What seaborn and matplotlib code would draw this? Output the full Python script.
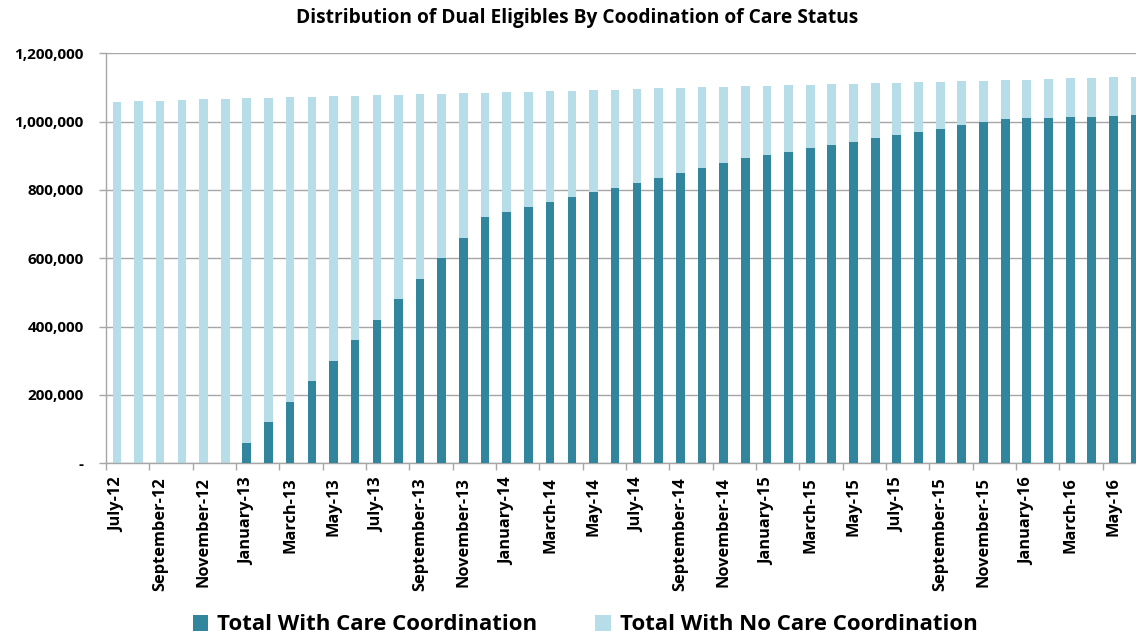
import matplotlib
matplotlib.use("Agg")
import matplotlib.pyplot as plt
import seaborn as sns
import pandas as pd
from matplotlib.patches import Patch
from matplotlib.ticker import FuncFormatter, FixedLocator

month_names = ["January", "February", "March", "April", "May", "June", "July",
               "August", "September", "October", "November", "December"]
months = []
for yy in range(12, 17):
    for mi, mn in enumerate(month_names):
        if (yy == 12 and mi < 6) or (yy == 16 and mi > 5):
            continue
        months.append(f"{mn}-{yy}")

total = [1058500, 1060500, 1061500, 1063400, 1065400, 1066300, 1068300, 1069300,
         1071200, 1072200, 1074100, 1076100, 1077000, 1078000, 1080000, 1082000,
         1083000, 1085000, 1087000, 1087500, 1089000, 1091000, 1092000, 1094000,
         1096000, 1097000, 1098500, 1100500, 1101500, 1103000, 1105000, 1106300,
         1107300, 1109300, 1110200, 1112200, 1114100, 1115100, 1117100, 1118000,
         1120000, 1122000, 1122900, 1124900, 1126800, 1127800, 1129800, 1130700]

with_cc = [0, 0, 0, 0, 0, 0, 60000, 120000,
           180000, 240000, 300000, 360000, 420000, 480000, 540000, 600000,
           660000, 720000, 735000, 750000, 765000, 780000, 793000, 807000,
           821000, 835000, 850000, 864000, 879000, 893000, 902000, 912000,
           923000, 932000, 940000, 951000, 961000, 970000, 979000, 990000,
           999000, 1009000, 1011000, 1012000, 1014000, 1015000, 1017000, 1018000]

no_cc = [t - w for t, w in zip(total, with_cc)]

series_names = ["Total With Care Coordination", "Total With No Care Coordination"]

DARK = "#31859C"
LIGHT = "#B7DEE8"
GRID = "#A6A6A6"

df = pd.DataFrame({"month": months, "with_cc": with_cc, "no_cc": no_cc})
df["total"] = df["with_cc"] + df["no_cc"]

sns.set_theme(style="white")
plt.rcParams["font.family"] = ["Open Sans", "DejaVu Sans"]
plt.rcParams["font.weight"] = "bold"
plt.rcParams["text.color"] = "black"
plt.rcParams["xtick.color"] = "black"
plt.rcParams["ytick.color"] = "black"

fig = plt.figure(figsize=(11.36, 6.35), dpi=100)
ax = fig.add_axes([106 / 1136, 1 - 463.3 / 635, 1040 / 1136, 410 / 635])

sns.barplot(data=df, x="month", y="total", color=LIGHT, width=0.4,
            saturation=1, linewidth=0, ax=ax, zorder=2)
sns.barplot(data=df, x="month", y="with_cc", color=DARK, width=0.4,
            saturation=1, linewidth=0, ax=ax, zorder=3)

ax.set_xlim(-0.5, len(months) - 0.5)
ax.set_ylim(0, 1200000)
ax.set_yticks(range(0, 1200001, 200000))
ax.yaxis.set_major_formatter(FuncFormatter(lambda v, p: "-" if v == 0 else f"{v:,.0f}"))
ax.grid(axis="y", color=GRID, linewidth=1.0, zorder=0)
ax.set_axisbelow(True)

# labels on every other month, tick marks on category boundaries
label_pos = list(range(0, len(months), 2))
ax.xaxis.set_major_locator(FixedLocator(label_pos))
ax.set_xticklabels([months[i] for i in label_pos], rotation=90,
                   fontsize=11.8, fontweight="bold", color="black")
ax.xaxis.set_minor_locator(FixedLocator([i - 0.5 for i in label_pos]))
ax.tick_params(axis="x", which="major", length=0, pad=10)
ax.tick_params(axis="x", which="minor", length=5, width=1, color=GRID, direction="out", bottom=True)
ax.tick_params(axis="y", length=5, width=1, color=GRID, direction="out", left=True, pad=11,
               labelsize=11, labelcolor="black")
for lbl in ax.get_yticklabels():
    lbl.set_fontweight("bold")

ax.set_xlabel("")
ax.set_ylabel("")
for s in ["top", "right"]:
    ax.spines[s].set_visible(False)
for s in ["left", "bottom"]:
    ax.spines[s].set_color(GRID)
    ax.spines[s].set_linewidth(1.0)

fig.text(0.508, 1 - 18 / 635, "Distribution of Dual Eligibles By Coodination of Care Status",
         ha="center", va="center", fontsize=13.8, fontweight="bold", color="black")

handles = [Patch(facecolor=DARK, edgecolor="none"), Patch(facecolor=LIGHT, edgecolor="none")]
fig.legend(handles, series_names, loc="center", bbox_to_anchor=(0.515, 1 - 625 / 635),
           ncol=2, frameon=False, prop={"size": 16, "weight": "bold"}, labelcolor="black",
           handlelength=0.7, handleheight=0.7, handletextpad=0.4, columnspacing=2.6)

fig.savefig("out.png", dpi=100)
